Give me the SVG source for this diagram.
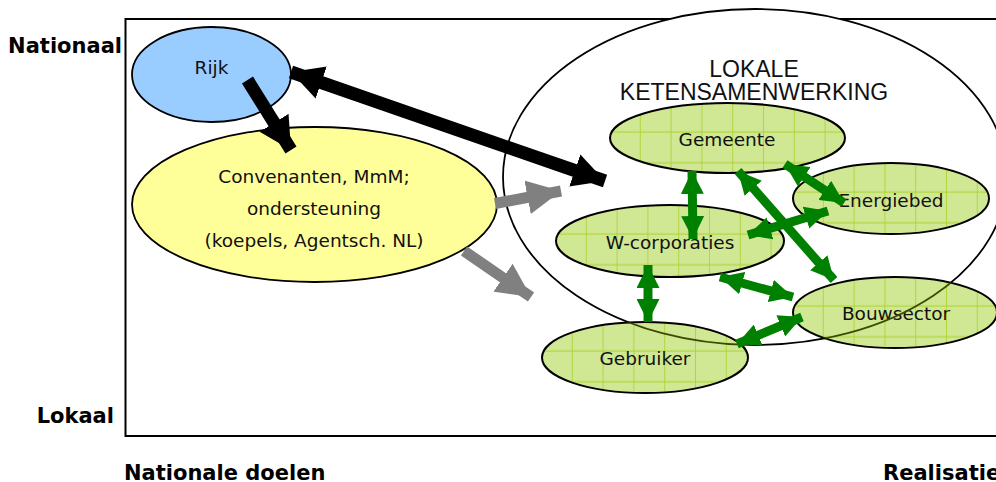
<svg xmlns="http://www.w3.org/2000/svg" width="996" height="482" viewBox="0 0 996 482">
  <style>
    .lbl { font-family: "DejaVu Sans", Verdana, sans-serif; font-weight: bold; font-size: 21px; fill: #000; }
    .nt { font-family: "DejaVu Sans", Verdana, sans-serif; font-size: 18.5px; fill: #111; text-anchor: middle; }
    .big { font-family: "Liberation Sans", Arial, sans-serif; font-size: 23px; fill: #111; text-anchor: middle; }
    .gnode { fill: url(#grid); stroke: #000; stroke-width: 2; }
    .garrow { stroke: #008000; stroke-width: 9; fill: none; marker-start: url(#gh); marker-end: url(#gh); }
  </style>
  <defs>
    <pattern id="grid" patternUnits="userSpaceOnUse" x="0" y="0" width="30.8" height="30.8">
      <rect width="30.8" height="30.8" fill="#d0e793"/>
      <rect x="30" y="0" width="1" height="30.8" fill="#abd22c"/>
      <rect x="0" y="28.5" width="30.8" height="1" fill="#abd22c"/>
    </pattern>
    <marker id="gh" markerUnits="userSpaceOnUse" viewBox="0 0 23 23" markerWidth="23" markerHeight="23" refX="23" refY="11.5" orient="auto-start-reverse">
      <path d="M0,0 L23,11.5 L0,23 Z" fill="#008000"/>
    </marker>
    <marker id="bh" markerUnits="userSpaceOnUse" viewBox="0 0 32 34" markerWidth="32" markerHeight="34" refX="32" refY="17" orient="auto-start-reverse">
      <path d="M0,0 L32,17 L0,34 Z" fill="#000"/>
    </marker>
    <marker id="grh" markerUnits="userSpaceOnUse" viewBox="0 0 34 34" markerWidth="34" markerHeight="34" refX="34" refY="17" orient="auto">
      <path d="M0,0 L34,17 L0,34 Z" fill="#808080"/>
    </marker>
    <clipPath id="lowclip">
      <ellipse cx="645" cy="357.5" rx="103" ry="35.5"/>
      <ellipse cx="895" cy="312.5" rx="102" ry="35.5"/>
    </clipPath>
  </defs>

  <rect width="996" height="482" fill="#fff"/>

  <g id="frame">
    <path d="M996,19 H125.5 V436 H996" fill="none" stroke="#000" stroke-width="2"/>
    <text class="lbl" x="122" y="53" text-anchor="end">Nationaal</text>
    <text class="lbl" x="114" y="422.5" text-anchor="end">Lokaal</text>
    <text class="lbl" x="124" y="480">Nationale doelen</text>
    <text class="lbl" x="883" y="480">Realisatie</text>
  </g>

  <g id="lokale">
    <ellipse cx="755" cy="177" rx="252" ry="168" fill="#fff" stroke="#000" stroke-width="1.8"/>
    <text class="big" x="754" y="76.5">LOKALE</text>
    <text class="big" x="754" y="100">KETENSAMENWERKING</text>
  </g>

  <g id="rijk">
    <ellipse cx="211.5" cy="74.5" rx="79.5" ry="47.5" fill="#99ccff" stroke="#000" stroke-width="1.8"/>
    <text class="nt" x="211.5" y="73.5">Rijk</text>
  </g>

  <g id="convenanten">
    <ellipse cx="314.5" cy="204.5" rx="182.5" ry="77.5" fill="#ffff99" stroke="#000" stroke-width="1.8"/>
    <text class="nt" x="314" y="183">Convenanten, MmM;</text>
    <text class="nt" x="314" y="215">ondersteuning</text>
    <text class="nt" x="314" y="247">(koepels, Agentsch. NL)</text>
  </g>

  <g id="gemeente" transform="translate(610,103)">
    <ellipse class="gnode" cx="117.5" cy="35" rx="117.5" ry="35"/>
    <text class="nt" x="117" y="43">Gemeente</text>
  </g>

  <g id="energiebed" transform="translate(793,163)">
    <ellipse class="gnode" cx="98" cy="35.5" rx="98" ry="35.5"/>
    <text class="nt" x="98" y="44.3">Energiebed</text>
  </g>

  <g id="wcorporaties" transform="translate(556,205)">
    <ellipse class="gnode" cx="114" cy="36" rx="114" ry="36"/>
    <text class="nt" x="114" y="44.3">W-corporaties</text>
  </g>

  <g id="bouwsector" transform="translate(793,277)">
    <ellipse class="gnode" cx="102" cy="35.5" rx="102" ry="35.5"/>
    <text class="nt" x="103" y="43">Bouwsector</text>
  </g>

  <g id="gebruiker" transform="translate(542,322)">
    <ellipse class="gnode" cx="103" cy="35.5" rx="103" ry="35.5"/>
    <text class="nt" x="103" y="43">Gebruiker</text>
  </g>

  <ellipse cx="755" cy="177" rx="252" ry="168" fill="none" stroke="#3c4a00" stroke-width="1.8" clip-path="url(#lowclip)"/>

  <g id="connectors">
    <line x1="247.5" y1="80" x2="291" y2="150" stroke="#000" stroke-width="13" marker-end="url(#bh)"/>
    <line x1="291" y1="72" x2="605" y2="181" stroke="#000" stroke-width="13" marker-start="url(#bh)" marker-end="url(#bh)"/>
    <line x1="495" y1="203.5" x2="561" y2="191" stroke="#808080" stroke-width="11" marker-end="url(#grh)"/>
    <line x1="464" y1="251" x2="531" y2="297" stroke="#808080" stroke-width="11" marker-end="url(#grh)"/>
    <line class="garrow" x1="692" y1="171" x2="693" y2="239"/>
    <line class="garrow" x1="785" y1="164" x2="844" y2="203"/>
    <line class="garrow" x1="738" y1="171" x2="834" y2="280"/>
    <line class="garrow" x1="748" y1="235" x2="828" y2="211"/>
    <line class="garrow" x1="648" y1="265" x2="648" y2="322"/>
    <line class="garrow" x1="720" y1="277" x2="793" y2="297"/>
    <line class="garrow" x1="737" y1="344" x2="802" y2="317"/>
  </g>
</svg>
